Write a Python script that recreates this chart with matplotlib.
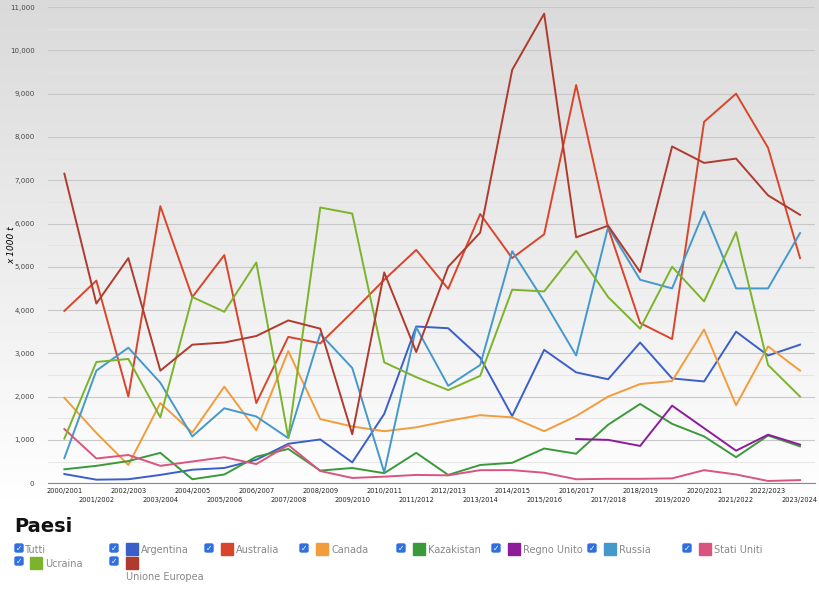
import matplotlib
matplotlib.use("Agg")
import matplotlib.pyplot as plt
import numpy as np
from matplotlib.patches import Rectangle, FancyBboxPatch

seasons = [f"{y}/{y+1}" for y in range(2000, 2024)]
argentina = [210,80,90,190,310,350,540,910,1010,480,1600,3620,3580,2900,1550,3080,2560,2400,3250,2420,2350,3500,2950,3200]
australia = [3980,4680,2000,6400,4300,5270,1850,3380,3230,3950,4700,5390,4490,6220,5200,5750,9200,5900,3700,3330,8350,9000,7750,5200]
canada = [1970,1160,420,1850,1170,2230,1220,3050,1480,1310,1200,1290,1440,1570,1520,1200,1550,2000,2290,2360,3550,1800,3160,2600]
kazakistan = [320,400,510,700,90,200,610,790,290,350,230,700,190,420,470,800,680,1350,1830,1370,1080,600,1100,850]
regno_unito = [None]*16 + [1020,1000,860,1790,1270,750,1120,890]
russia = [580,2600,3130,2320,1080,1730,1540,1040,3450,2660,250,3600,2250,2730,5360,4200,2950,5920,4700,4500,6280,4500,4500,5780]
stati_uniti = [1250,570,650,400,500,600,440,880,280,120,150,190,180,300,300,240,90,100,100,110,300,200,50,70]
ucraina = [1030,2800,2870,1520,4300,3960,5100,1050,6370,6230,2790,2450,2150,2480,4470,4430,5370,4300,3570,5000,4200,5800,2730,2000]
unione_europea = [7150,4150,5200,2600,3200,3250,3400,3760,3570,1130,4870,3030,5000,5790,9550,10850,5680,5950,4880,7780,7400,7500,6650,6200]

series = [
    ("Argentina", argentina, "#3b5fc9"),
    ("Australia", australia, "#d9452b"),
    ("Canada", canada, "#f39c3c"),
    ("Kazakistan", kazakistan, "#3a9a3a"),
    ("Regno Unito", regno_unito, "#8e1b9c"),
    ("Russia", russia, "#4499cc"),
    ("Stati Uniti", stati_uniti, "#d9557f"),
    ("Ucraina", ucraina, "#7cb32c"),
    ("Unione Europea", unione_europea, "#b03a2e"),
]

fig = plt.figure(figsize=(8.2, 5.95), dpi=100)
bg = fig.add_axes([0, 0.16, 1, 0.84], zorder=0)
grad = np.linspace(0, 1, 256).reshape(-1, 1)
bg.imshow(grad, aspect="auto", cmap=matplotlib.colors.LinearSegmentedColormap.from_list("g", ["#ffffff", "#dadada"]),
          origin="lower", extent=[0, 1, 0, 1])
bg.axis("off")

ax = fig.add_axes([0.059, 0.188, 0.935, 0.8], zorder=1)
ax.patch.set_alpha(0)
x = np.arange(len(seasons))
for name, vals, col in series:
    v = np.array([np.nan if a is None else a for a in vals], dtype=float)
    ax.plot(x, v, color=col, lw=1.4, zorder=3)

ax.set_xlim(-0.5, 23.47)
ax.set_ylim(0, 11000)
ax.set_yticks(np.arange(0, 11001, 1000))
ax.set_yticklabels([f"{v:,}" for v in range(0, 11001, 1000)], fontsize=5, color="#444")
ax.set_yticks(np.arange(500, 11000, 1000), minor=True)
ax.grid(axis="y", which="major", color="#c8c8c8", lw=0.8)
ax.grid(axis="y", which="minor", color="#e2e2e2", lw=0.6)
ax.tick_params(axis="y", length=0, pad=10)
ax.tick_params(axis="y", which="minor", length=0)
ax.set_xticks(x)
ax.set_xticklabels([])
ax.tick_params(axis="x", length=0)
for i, s in enumerate(seasons):
    ax.text(i, -120 if i % 2 == 0 else -320, s, ha="center", va="top", fontsize=4.8, color="#222")
for sp in ["top", "right", "left"]:
    ax.spines[sp].set_visible(False)
ax.spines["bottom"].set_color("#888")

W, H = 820, 595
def fx(px): return px / W
def fy(py): return 1 - py / H
fig.text(fx(12), fy(245), "x 1000 t", fontsize=6.5, style="italic", rotation=90, ha="center", va="center", zorder=3)
fig.patches.append(Rectangle((0, 0), 1, fy(507), transform=fig.transFigure, color="white", zorder=2))
fig.text(fx(14), fy(527), "Paesi", fontsize=14, fontweight="bold", va="center", color="#111", zorder=3)

def checkbox(px, py):
    fig.patches.append(FancyBboxPatch((fx(px), fy(py + 4)), fx(8), 8 / H, boxstyle="round,pad=0,rounding_size=0.002",
                                      transform=fig.transFigure, color="#2f6fe0", zorder=3))
    fig.text(fx(px + 4), fy(py), "✓", fontsize=5.5, color="white", ha="center", va="center", zorder=4, fontweight="bold")

def swatch(px, py, col):
    fig.patches.append(Rectangle((fx(px), fy(py + 6)), fx(12), 12 / H, transform=fig.transFigure, color=col, zorder=3))

checkbox(15, 548)
fig.text(fx(24), fy(550), "Tutti", fontsize=7, color="#888", va="center", zorder=3)
cols = [110, 205, 300, 397, 492, 588, 683]
for (name, _, col), cx in zip(series[:7], cols):
    checkbox(cx, 548)
    swatch(cx + 16, 549, col)
    fig.text(fx(cx + 31), fy(550), name, fontsize=7, color="#888", va="center", zorder=3)
checkbox(15, 561)
swatch(30, 563, series[7][2])
fig.text(fx(45), fy(564), "Ucraina", fontsize=7, color="#888", va="center", zorder=3)
checkbox(110, 561)
swatch(126, 563, series[8][2])
fig.text(fx(126), fy(577), "Unione Europea", fontsize=7, color="#888", va="center", zorder=3)

fig.savefig("out.png", dpi=100)
